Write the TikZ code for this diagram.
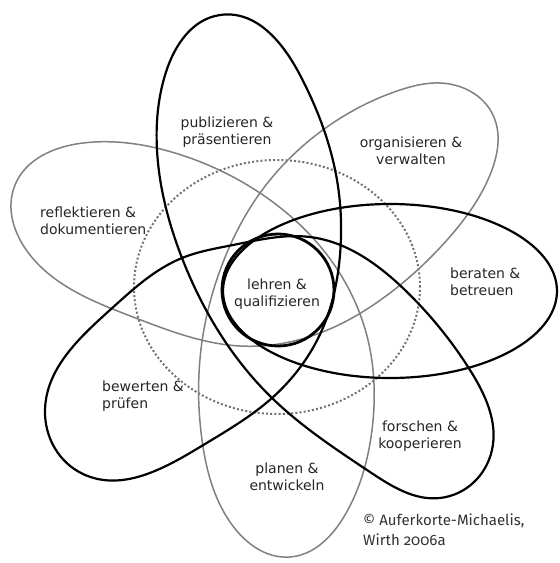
\documentclass[tikz,border=0pt]{standalone}
\usepackage{fontspec}
\usetikzlibrary{hobby}
\setmainfont{DejaVu Sans}
\newfontfamily\copyfont[Numbers=OldStyle]{Fira Sans}
\begin{document}
\begin{tikzpicture}[x=1pt,y=-1pt,
  lab/.style={font=\fontsize{14}{17}\selectfont, text=black!85, inner sep=0pt, align=center},
  labl/.style={lab, align=left},
  blk/.style={draw=black, line width=2.2pt, line join=round},
  gry/.style={draw=black!50, line width=1.5pt},
  dotring/.style={draw=black!55, line width=2pt, dash pattern=on 2pt off 2.2pt},
  hub/.style={draw=black, line width=2.8pt}
]
\useasboundingbox (0,0) rectangle (560,563);
\fill[white] (0,0) rectangle (560,563);

% dotted ring
\draw[dotring] (277,287) ellipse [x radius=143pt, y radius=127pt];

% gray trefoil: organisieren, reflektieren, planen
\draw[gry, use Hobby shortcut, closed=true]
 (440,83) .. (493,115) .. (490,175) .. (447,240) .. (390,293) .. (320,333)
 .. (240,346) .. (133,317) .. (30,255) .. (15,185) .. (83,143) .. (175,153)
 .. (260,193) .. (333,263) .. (368,340) .. (372,430) .. (345,515) .. (290,557)
 .. (230,522) .. (202,440) .. (203,335) .. (222,265) .. (260,193) .. (327,127)
 .. (400,90);

% black trefoil: publizieren, forschen, bewerten
\draw[blk, use Hobby shortcut, closed=true]
 (220,15) .. (166,72) .. (157,150) .. (182,258) .. (272,398) .. (370,472)
 .. (440,498) .. (492,450) .. (470,370) .. (407,292) .. (310,237) .. (233,245)
 .. (182,258) .. (110,310) .. (45,410) .. (83,474) .. (200,447) .. (272,398)
 .. (322,330) .. (340,255) .. (337,180) .. (300,75);

% beraten ellipse
\draw[blk] (390,291) ellipse [x radius=167pt, y radius=87pt];

% hub circle
\draw[hub] (278,290) circle [radius=56pt];

% labels
\node[lab] (pub) at (227,132) {publizieren \&\\präsentieren};
\node[lab] (org) at (411,151) {organisieren \&\\verwalten};
\node[labl, anchor=west] (ref) at (40,221) {reflektieren \&\\dokumentieren};
\node[labl, anchor=west] (ber) at (450,282) {beraten \&\\betreuen};
\node[labl, anchor=west] (bew) at (102,396) {bewerten \&\\prüfen};
\node[lab] (for) at (420,436) {forschen \&\\kooperieren};
\node[lab] (pla) at (287,477) {planen \&\\entwickeln};
\node[lab] (leh) at (277,294) {lehren \&\\qualifizieren};

\node[anchor=north west, inner sep=0pt, align=left, text=black!80,
      font=\copyfont\fontsize{15}{20}\selectfont] (copy) at (363,514)
  {© Auferkorte-Michaelis,\\Wirth 2006a};
\end{tikzpicture}
\end{document}
